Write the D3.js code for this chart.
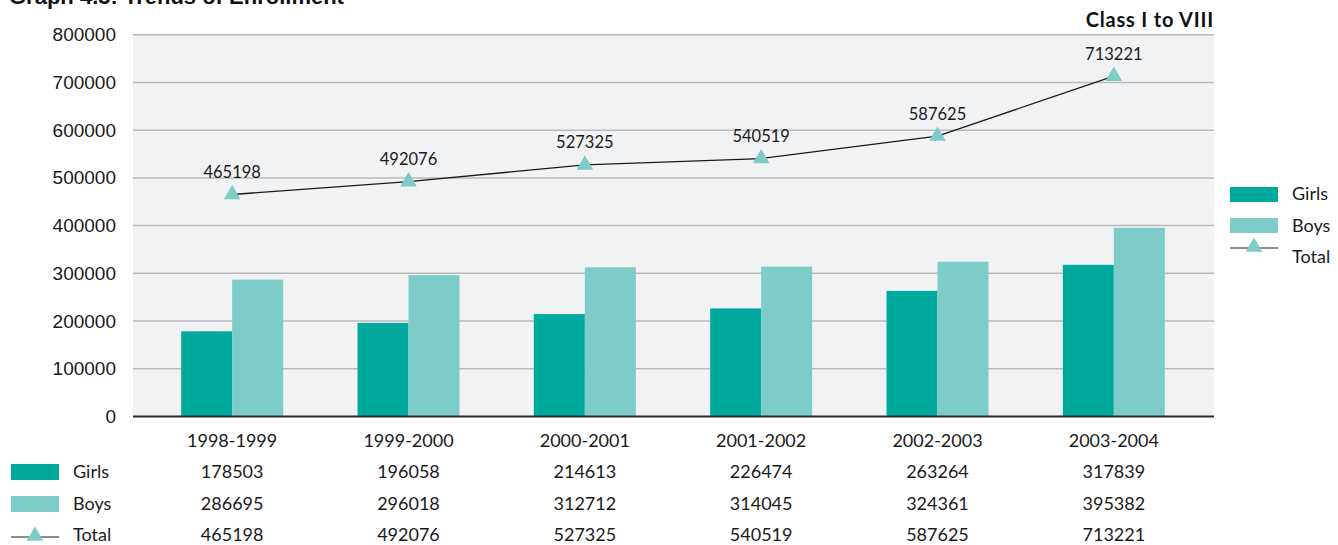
<!DOCTYPE html>
<html>
<head>
<meta charset="utf-8">
<script src="https://cdn.jsdelivr.net/npm/d3@7"></script>
<style>
  html, body { margin: 0; padding: 0; background: #ffffff; }
  svg { display: block; }
</style>
</head>
<body>
<svg id="chart" width="1338" height="545"></svg>
<script>
const categories = ["1998-1999", "1999-2000", "2000-2001", "2001-2002", "2002-2003", "2003-2004"];
const girls = [178503, 196058, 214613, 226474, 263264, 317839];
const boys  = [286695, 296018, 312712, 314045, 324361, 395382];
const total = [465198, 492076, 527325, 540519, 587625, 713221];
const yTicks = [0, 100000, 200000, 300000, 400000, 500000, 600000, 700000, 800000];
const seriesNames = ["Girls", "Boys", "Total"];
const titleText = "Graph 4.3: Trends of Enrollment";
const subtitleText = "Class I to VIII";

const C_GIRLS = "#00a99d", C_BOYS = "#7dccc7", C_BG = "#f1f2f4", C_GRID = "#b9babc";
const GILL = "Lato, 'Open Sans', sans-serif";
const HELV = "'Liberation Sans', Arial, sans-serif";

const svg = d3.select("#chart");
const plotL = 133, plotR = 1214, plotT = 34.7, plotB = 416.5;

const x = d3.scaleBand().domain(categories).range([144, 1202]).padding(0);
const y = d3.scaleLinear().domain([0, 800000]).range([plotB, plotT]);
const barW = 51;
const cx = c => x(c) + x.bandwidth() / 2;

// title (cut off at top edge as in the source)
svg.append("text").attr("x", 9).attr("y", 4)
  .attr("font-family", HELV).attr("font-weight", "bold").attr("font-size", 22)
  .attr("fill", "#111").text(titleText);

// plot background
svg.append("rect").attr("x", plotL).attr("y", plotT).attr("width", plotR - plotL).attr("height", plotB - plotT)
  .attr("fill", C_BG);

// gridlines
svg.append("g").selectAll("line").data(yTicks.filter(d => d > 0)).join("line")
  .attr("x1", plotL).attr("x2", plotR)
  .attr("y1", d => y(d)).attr("y2", d => y(d))
  .attr("stroke", C_GRID).attr("stroke-width", 1.5);

// y axis labels
const yAxis = d3.axisLeft(y).tickValues(yTicks).tickSize(0).tickPadding(17).tickFormat(d3.format("d"));
const yg = svg.append("g").attr("transform", `translate(${plotL},0)`).call(yAxis);
yg.select(".domain").remove();
yg.selectAll("text").attr("font-family", HELV).attr("font-size", 19).attr("fill", "#1a1a1a");

// bars
const bars = svg.append("g");
bars.selectAll(".girls").data(categories).join("rect")
  .attr("x", c => cx(c) - barW).attr("width", barW)
  .attr("y", (c, i) => y(girls[i])).attr("height", (c, i) => y(0) - y(girls[i]))
  .attr("fill", C_GIRLS);
bars.selectAll(".boys").data(categories).join("rect")
  .attr("x", c => cx(c)).attr("width", barW)
  .attr("y", (c, i) => y(boys[i])).attr("height", (c, i) => y(0) - y(boys[i]))
  .attr("fill", C_BOYS);

// baseline axis
svg.append("line").attr("x1", plotL).attr("x2", plotR).attr("y1", y(0)).attr("y2", y(0))
  .attr("stroke", "#2a2a2a").attr("stroke-width", 2);

// total line
const line = d3.line().x((d, i) => cx(categories[i])).y(d => y(d));
svg.append("path").datum(total).attr("d", line)
  .attr("fill", "none").attr("stroke", "#1a1a1a").attr("stroke-width", 1.3);

const tri = d3.symbol().type(d3.symbolTriangle).size(120);
svg.append("g").selectAll("path").data(total).join("path")
  .attr("d", tri)
  .attr("transform", (d, i) => `translate(${cx(categories[i])},${y(d)})`)
  .attr("fill", C_BOYS);

svg.append("g").selectAll("text").data(total).join("text")
  .attr("x", (d, i) => cx(categories[i]))
  .attr("y", d => y(d) - 16.5)
  .attr("text-anchor", "middle")
  .attr("font-family", GILL).attr("font-size", 16.5).attr("fill", "#1a1a1a")
  .text(d => d);

// subtitle
svg.append("text").attr("x", plotR).attr("y", 27).attr("text-anchor", "end")
  .attr("font-family", GILL).attr("font-weight", "bold").attr("font-size", 20)
  .attr("letter-spacing", 0.8)
  .attr("fill", "#111").text(subtitleText);

// right legend
const legR = svg.append("g");
const legY = [194.5, 225.5, 248];
seriesNames.forEach((name, i) => {
  if (i < 2) {
    legR.append("rect").attr("x", 1230).attr("y", legY[i] - 7.5).attr("width", 48).attr("height", 15)
      .attr("fill", i === 0 ? C_GIRLS : C_BOYS);
  } else {
    legR.append("line").attr("x1", 1230).attr("x2", 1278).attr("y1", legY[i]).attr("y2", legY[i])
      .attr("stroke", "#1a1a1a").attr("stroke-width", 1.2);
    legR.append("path").attr("d", tri).attr("transform", `translate(1254,${legY[i] - 1})`).attr("fill", C_BOYS);
  }
  legR.append("text").attr("x", 1292).attr("y", [200, 232, 263][i])
    .attr("font-family", GILL).attr("font-size", 18).attr("fill", "#1a1a1a").text(name);
});

// data table
const tbl = svg.append("g");
tbl.selectAll(".cat").data(categories).join("text")
  .attr("x", c => cx(c)).attr("y", 447).attr("text-anchor", "middle")
  .attr("font-family", GILL).attr("font-size", 18).attr("fill", "#1a1a1a").text(c => c);

const rows = [girls, boys, total];
const rowY = [478, 510, 541];
rows.forEach((vals, r) => {
  tbl.selectAll(".r" + r).data(vals).join("text")
    .attr("x", (d, i) => cx(categories[i])).attr("y", rowY[r]).attr("text-anchor", "middle")
    .attr("font-family", GILL).attr("font-size", 18).attr("fill", "#1a1a1a").text(d => d);
  if (r < 2) {
    tbl.append("rect").attr("x", 11).attr("y", rowY[r] - 14).attr("width", 48).attr("height", 16)
      .attr("fill", r === 0 ? C_GIRLS : C_BOYS);
  } else {
    tbl.append("line").attr("x1", 11).attr("x2", 59).attr("y1", rowY[r] - 4).attr("y2", rowY[r] - 4)
      .attr("stroke", "#1a1a1a").attr("stroke-width", 1.2);
    tbl.append("path").attr("d", tri).attr("transform", `translate(35,${rowY[r] - 5})`).attr("fill", C_BOYS);
  }
  tbl.append("text").attr("x", 73).attr("y", rowY[r])
    .attr("font-family", GILL).attr("font-size", 18).attr("fill", "#1a1a1a").text(seriesNames[r]);
});
</script>
</body>
</html>
